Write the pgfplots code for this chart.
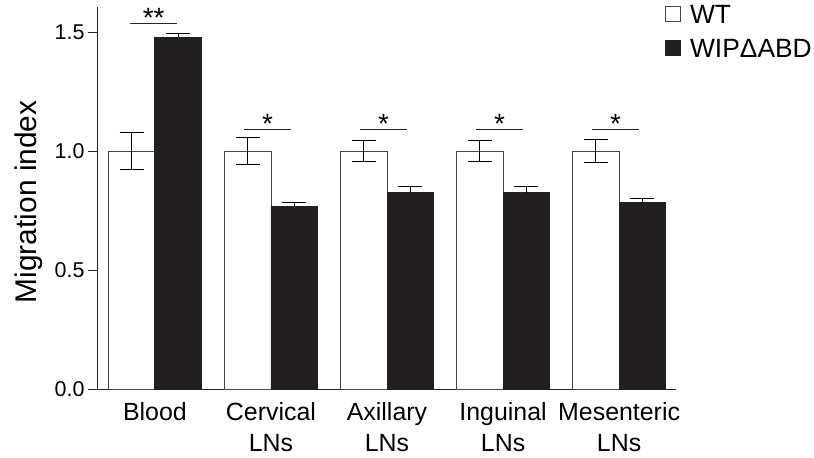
\documentclass[border=0pt]{standalone}
\usepackage{pgfplots}
\pgfplotsset{compat=1.18}
\usepackage{fontspec}
\setmainfont{Liberation Sans}
\definecolor{barblack}{RGB}{35,31,32}
\definecolor{edgegray}{RGB}{70,70,70}
\begin{document}
\begin{tikzpicture}
\begin{axis}[
  name=ax,
  at={(0,0)}, anchor=south west,
  width=578bp, height=382bp, scale only axis,
  xmin=-0.49, xmax=4.49, ymin=0, ymax=1.606,
  axis x line=bottom, axis y line=left,
  axis line style={-, line width=1bp, black!85},
  xtick={0,1,2,3,4},
  xticklabels={Blood, Cervical\\LNs, Axillary\\LNs, Inguinal\\LNs, Mesenteric\\LNs},
  x tick label style={align=center, font=\fontsize{25}{31}\selectfont},
  x tick style={draw=none},
  ytick={0,0.5,1,1.5},
  tick align=outside,
  major tick length=10bp,
  y tick style={line width=1bp, black!85},
  y tick label style={font=\fontsize{21.5}{25}\selectfont},
  yticklabel={\pgfmathprintnumber[fixed,fixed zerofill,precision=1]{\tick}},
  /pgf/number format/assume math mode=true,
  ylabel={Migration index},
  every axis y label/.style={at={(rel axis cs:0,0.49)}, xshift=-55bp, rotate=90, anchor=south, inner sep=0pt, font=\fontsize{30}{36}\selectfont},
  legend style={draw=none, fill=none, at={(rel axis cs:0.981,1.014)}, anchor=north west, font=\fontsize{26.5}{31}\selectfont, row sep=9bp, inner sep=0pt, nodes={inner sep=3bp}},
  legend cell align=left,
  clip=false,
]
\addplot[ybar, bar width=0.4, bar shift=0pt, fill=white, draw=edgegray, line width=0.8bp,
  area legend,
  legend image code/.code={\draw[fill=white, draw=edgegray, line width=0.8bp] (0bp,-6.5bp) rectangle (15bp,8.5bp); \path (21bp,0bp);},
  error bars/.cd, y dir=both, y explicit, error bar style={line width=0.9bp, black}, error mark options={rotate=90, mark size=12bp, line width=0.9bp, black},
] table[x=x, y=y, y error=e] {
x y e
-0.2 1.0 0.077
0.8 1.0 0.057
1.8 1.0 0.043
2.8 1.0 0.043
3.8 1.0 0.048
};
\addlegendentry{WT}
\addplot[ybar, bar width=0.4, bar shift=0pt, fill=barblack, draw=barblack, line width=0.8bp,
  area legend,
  legend image code/.code={\draw[fill=barblack, draw=barblack, line width=0.8bp] (0bp,-6.5bp) rectangle (15bp,8.5bp); \path (21bp,0bp);},
  error bars/.cd, y dir=plus, y explicit, error bar style={line width=0.9bp, black}, error mark options={rotate=90, mark size=12bp, line width=0.9bp, black},
] table[x=x, y=y, y error=e] {
x y e
0.2 1.479 0.014
1.2 0.769 0.017
2.2 0.826 0.024
3.2 0.826 0.024
4.2 0.786 0.015
};
\addlegendentry{WIPΔABD}
% significance bars
\draw[line width=0.9bp, black!85] (axis cs:-0.21,1.538) -- (axis cs:0.19,1.538);
\node[anchor=base, font=\fontsize{28}{30}\selectfont, inner sep=0pt] at (axis cs:-0.01,1.52) {**};
\draw[line width=0.9bp, black!85] (axis cs:0.77,1.092) -- (axis cs:1.17,1.092);
\node[anchor=base, font=\fontsize{28}{30}\selectfont, inner sep=0pt] at (axis cs:0.97,1.076) {*};
\draw[line width=0.9bp, black!85] (axis cs:1.77,1.092) -- (axis cs:2.17,1.092);
\node[anchor=base, font=\fontsize{28}{30}\selectfont, inner sep=0pt] at (axis cs:1.97,1.076) {*};
\draw[line width=0.9bp, black!85] (axis cs:2.77,1.092) -- (axis cs:3.17,1.092);
\node[anchor=base, font=\fontsize{28}{30}\selectfont, inner sep=0pt] at (axis cs:2.97,1.076) {*};
\draw[line width=0.9bp, black!85] (axis cs:3.77,1.092) -- (axis cs:4.17,1.092);
\node[anchor=base, font=\fontsize{28}{30}\selectfont, inner sep=0pt] at (axis cs:3.97,1.076) {*};
\end{axis}
\pgfresetboundingbox
\path (ax.south west) ++(-98bp,-69bp) rectangle ++(814bp,458bp);
\end{tikzpicture}
\end{document}
